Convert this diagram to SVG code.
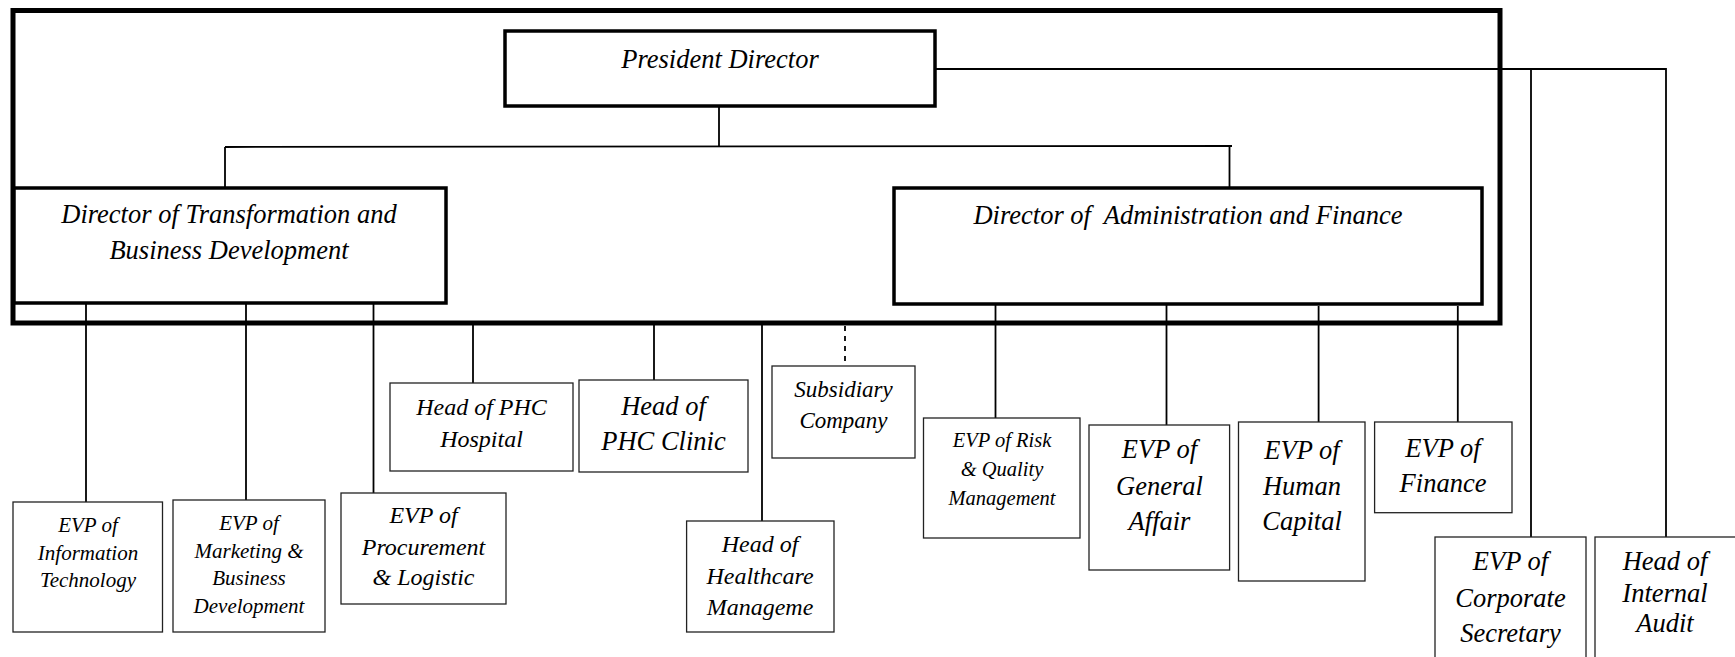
<svg xmlns="http://www.w3.org/2000/svg" width="1735" height="657" viewBox="0 0 1735 657">
<style>
text{fill:#000;text-anchor:middle;font-family:"Liberation Serif","Times New Roman",serif;font-style:italic}
.t26{font-size:26.5px}
.t24{font-size:24px}
.t23{font-size:23px}
.t21{font-size:21px}
.t20{font-size:20.5px}
.frame{fill:none;stroke:#000;stroke-width:5}
.dir{fill:#fff;stroke:#000;stroke-width:3.5}
.box{fill:#fff;stroke:#222;stroke-width:1.3}
.c{stroke:#000;stroke-width:1.8;fill:none}
.d{stroke:#000;stroke-width:1.8;fill:none;stroke-dasharray:5 5}
</style>
<rect width="1735" height="657" fill="#fff"/>
<g id="connectors">
<line class="c" x1="719" y1="106" x2="719" y2="147"/>
<line class="c" x1="225" y1="147" x2="1232" y2="146"/>
<line class="c" x1="225" y1="147" x2="225" y2="188"/>
<line class="c" x1="1229.5" y1="146" x2="1229.5" y2="188"/>
<polyline class="c" points="935,69 1666,69 1666,537"/>
<line class="c" x1="1531" y1="69" x2="1531" y2="537"/>
<line class="c" x1="86" y1="304" x2="86" y2="502"/>
<line class="c" x1="246" y1="303" x2="246" y2="500"/>
<line class="c" x1="373.5" y1="302" x2="373.5" y2="497"/>
<line class="c" x1="473" y1="323" x2="473" y2="383"/>
<line class="c" x1="654" y1="323" x2="654" y2="380"/>
<line class="c" x1="762" y1="323" x2="762" y2="521"/>
<line class="d" x1="845" y1="326" x2="845" y2="362"/>
<line class="c" x1="995.5" y1="297" x2="995.5" y2="418"/>
<line class="c" x1="1166.5" y1="297" x2="1166.5" y2="425"/>
<line class="c" x1="1318.6" y1="306" x2="1318.6" y2="422"/>
<line class="c" x1="1457.8" y1="306" x2="1457.8" y2="422"/>
</g>
<g id="frame"><rect class="frame" x="13" y="10.5" width="1487" height="312.5"/></g>
<g font-family="Liberation Serif, serif" font-style="italic">
<g id="president"><rect class="dir" x="505" y="31" width="430" height="75"/><text class="t26" x="720" y="68">President Director</text></g>
<g id="dir-tbd"><rect class="dir" x="14" y="188" width="432" height="115"/><text class="t26" x="229" y="222.5">Director of Transformation and</text><text class="t26" x="229" y="259">Business Development</text></g>
<g id="dir-af"><rect class="dir" x="894" y="188" width="588" height="116"/><text class="t26" x="1188" y="224" xml:space="preserve">Director of  Administration and Finance</text></g>
<g id="evp-it"><rect class="box" x="13" y="502" width="149.5" height="130"/><text class="t21" x="88" y="532">EVP of</text><text class="t21" x="88" y="560">Information</text><text class="t21" x="88" y="587">Technology</text></g>
<g id="evp-mkt"><rect class="box" x="173" y="500" width="152" height="132"/><text class="t21" x="249" y="530">EVP of</text><text class="t21" x="249" y="557.5">Marketing &amp;</text><text class="t21" x="249" y="585">Business</text><text class="t21" x="249" y="612.5">Development</text></g>
<g id="evp-proc"><rect class="box" x="341" y="493" width="165" height="111"/><text class="t24" x="423.5" y="523">EVP of</text><text class="t24" x="423.5" y="555">Procurement</text><text class="t24" x="423.5" y="585">&amp; Logistic</text></g>
<g id="phc-hospital"><rect class="box" x="390" y="383" width="183" height="88"/><text class="t24" x="481.5" y="415">Head of PHC</text><text class="t24" x="481.5" y="446.5">Hospital</text></g>
<g id="phc-clinic"><rect class="box" x="579" y="380" width="169" height="92"/><text class="t26" x="663.5" y="415">Head of</text><text class="t26" x="663.5" y="450">PHC Clinic</text></g>
<g id="healthcare"><rect class="box" x="686.6" y="521" width="147.4" height="111"/><text class="t24" x="760" y="552">Head of</text><text class="t24" x="760" y="583.5">Healthcare</text><text class="t24" x="760" y="615">Manageme</text></g>
<g id="subsidiary"><rect class="box" x="772" y="366" width="143" height="92"/><text class="t23" x="843.5" y="396.5">Subsidiary</text><text class="t23" x="843.5" y="428">Company</text></g>
<g id="evp-risk"><rect class="box" x="923.5" y="418" width="156.5" height="120"/><text class="t20" x="1002" y="447">EVP of Risk</text><text class="t20" x="1002" y="476">&amp; Quality</text><text class="t20" x="1002" y="504.5">Management</text></g>
<g id="evp-ga"><rect class="box" x="1089" y="425" width="140.6" height="145"/><text class="t26" x="1159.5" y="458">EVP of</text><text class="t26" x="1159.5" y="494.5">General</text><text class="t26" x="1159.5" y="530">Affair</text></g>
<g id="evp-hc"><rect class="box" x="1238.5" y="422" width="126.5" height="159"/><text class="t26" x="1302" y="459">EVP of</text><text class="t26" x="1302" y="495">Human</text><text class="t26" x="1302" y="530">Capital</text></g>
<g id="evp-fin"><rect class="box" x="1374.6" y="422" width="137.4" height="90.7"/><text class="t26" x="1443" y="456.5">EVP of</text><text class="t26" x="1443" y="491.5">Finance</text></g>
<g id="evp-cs"><rect class="box" x="1435" y="537" width="151" height="130"/><text class="t26" x="1510.5" y="570">EVP of</text><text class="t26" x="1510.5" y="606.5">Corporate</text><text class="t26" x="1510.5" y="641.5">Secretary</text></g>
<g id="internal-audit"><rect class="box" x="1595" y="537" width="150" height="130"/><text class="t26" x="1665" y="570">Head of</text><text class="t26" x="1665" y="601.5">Internal</text><text class="t26" x="1665" y="631.5">Audit</text></g>
</g>
</svg>
